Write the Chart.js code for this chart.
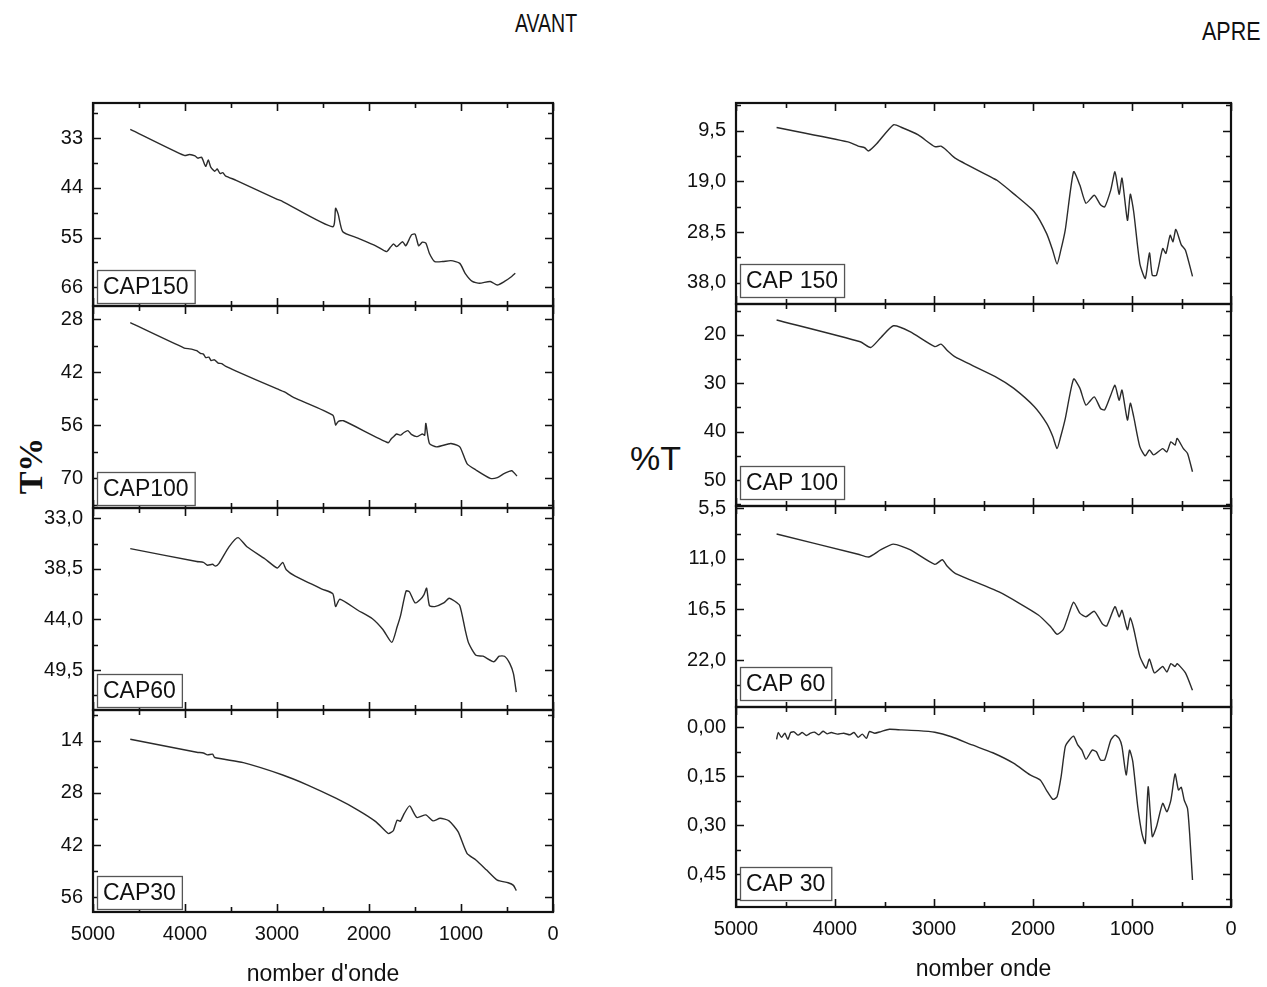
<!DOCTYPE html>
<html>
<head>
<meta charset="utf-8">
<title>CAP IR AVANT / APRE</title>
<script src="https://cdn.jsdelivr.net/npm/chart.js@4.4.1/dist/chart.umd.min.js"></script>
<style>
  body { margin: 0; background: #fff; width: 1267px; height: 987px; position: relative; overflow: hidden; }
  canvas { position: absolute; }
  .txt { position: absolute; white-space: nowrap; color: #111; font-family: 'Liberation Sans', Arial, sans-serif; line-height: 1; }
</style>
</head>
<body>
<div class="txt" id="avant" style="font-size:25px; left:546px; top:23px; transform:translate(-50%,-50%) scaleX(0.78);">AVANT</div>
<div class="txt" id="apre" style="font-size:25px; left:1202px; top:31px; transform-origin:left center; transform:translateY(-50%) scaleX(0.86);">APRE</div>
<div class="txt" id="tpct" style="font-family:'Liberation Serif','Times New Roman',serif; font-weight:bold; font-size:34px; left:31px; top:466px; transform:translate(-50%,-50%) rotate(-90deg);">T%</div>
<div class="txt" id="pctt" style="font-size:34px; left:681px; top:458px; transform:translate(-100%,-50%);">%T</div>

<script>
// --- DATA ---
// wave numbers (cm-1) and transmittance for each sample, before (AVANT) and after (APRE)
const wnA150 = [4595, 4008, 3950, 3891, 3860, 3820, 3775, 3747, 3720, 3677, 3650, 3619, 3590, 3561, 3444, 2997, 2938, 2394, 2363, 2335, 2285, 2121, 1927, 1810, 1770, 1733, 1700, 1635, 1600, 1538, 1499, 1460, 1420, 1382, 1343, 1285, 1200, 1110, 1013, 955, 877, 799, 682, 605, 527, 449, 410];
const tA150  = [31.0, 36.8, 36.6, 36.9, 37.4, 37.2, 39.2, 37.8, 39.4, 40.3, 39.8, 40.8, 40.6, 41.3, 42.3, 46.5, 47.0, 52.6, 48.5, 49.8, 53.7, 55.1, 56.8, 58.1, 57.2, 56.4, 57.0, 55.9, 56.8, 54.4, 54.2, 56.8, 56.0, 56.2, 58.5, 60.3, 60.3, 60.1, 60.7, 62.9, 64.7, 65.1, 64.7, 65.5, 64.7, 63.6, 62.9];

const wnA100 = [4595, 4008, 3950, 3911, 3872, 3833, 3800, 3775, 3740, 3716, 3680, 3639, 3600, 3561, 3444, 2997, 2919, 2822, 2394, 2363, 2335, 2277, 1791, 1760, 1733, 1700, 1655, 1620, 1577, 1540, 1480, 1421, 1395, 1382, 1343, 1266, 1149, 1110, 1013, 935, 838, 682, 605, 527, 449, 391];
const tA100  = [28.9, 35.6, 35.8, 36.0, 36.3, 37.0, 37.2, 38.1, 38.0, 38.9, 38.7, 39.6, 39.7, 40.4, 41.7, 46.4, 47.2, 48.6, 53.3, 55.9, 55.0, 54.8, 60.6, 59.6, 59.0, 58.3, 58.6, 57.9, 57.4, 58.4, 59.0, 58.3, 58.6, 55.5, 60.8, 61.7, 61.0, 60.8, 61.7, 66.1, 67.8, 70.0, 69.8, 68.7, 68.0, 69.4];

const wnA60 = [4595, 3872, 3800, 3755, 3700, 3669, 3630, 3522, 3424, 3327, 3133, 2997, 2938, 2899, 2802, 2510, 2394, 2363, 2316, 2121, 1966, 1849, 1752, 1694, 1655, 1597, 1560, 1499, 1440, 1402, 1374, 1343, 1285, 1188, 1130, 1071, 1013, 955, 916, 838, 760, 643, 585, 527, 469, 430, 399];
const tA60  = [36.3, 37.7, 37.8, 38.1, 38.0, 38.2, 37.9, 36.1, 35.1, 36.1, 37.4, 38.4, 37.8, 38.6, 39.3, 40.7, 41.2, 42.6, 41.8, 43.0, 43.9, 45.1, 46.5, 44.8, 43.5, 40.9, 41.0, 42.2, 41.8, 41.3, 40.6, 42.5, 42.6, 42.2, 41.7, 42.0, 42.5, 45.1, 46.6, 47.9, 48.0, 48.6, 48.0, 48.0, 48.8, 49.9, 51.9];

const wnA30 = [4595, 3872, 3800, 3755, 3700, 3677, 3366, 2938, 2666, 2355, 2121, 1927, 1791, 1760, 1733, 1694, 1660, 1616, 1558, 1480, 1382, 1304, 1227, 1130, 1032, 935, 838, 721, 605, 488, 430, 399];
const tA30  = [13.6, 17.1, 17.3, 17.8, 17.6, 18.5, 19.9, 23.2, 25.9, 29.5, 32.6, 35.7, 38.9, 38.6, 38.0, 35.3, 35.6, 33.5, 31.5, 34.6, 33.9, 35.5, 34.8, 35.5, 38.4, 44.2, 46.0, 48.7, 51.4, 52.1, 52.8, 54.2];

const wnR150 = [4590, 3870, 3766, 3700, 3661, 3577, 3410, 3326, 3159, 2992, 2929, 2866, 2782, 2406, 2364, 2197, 1988, 1862, 1800, 1757, 1720, 1674, 1590, 1527, 1465, 1381, 1318, 1276, 1214, 1172, 1130, 1101, 1046, 1017, 983, 921, 866, 824, 795, 753, 690, 657, 615, 586, 557, 502, 460, 389];
const tR150  = [8.9, 11.6, 12.4, 12.7, 13.3, 11.9, 8.4, 8.9, 10.3, 12.5, 12.4, 13.3, 14.7, 18.4, 18.8, 21.3, 24.7, 28.8, 32.0, 34.5, 32.0, 28.1, 17.2, 19.7, 23.1, 21.6, 23.4, 23.8, 20.6, 17.2, 21.4, 18.4, 26.3, 21.4, 24.7, 34.4, 37.2, 32.4, 36.6, 36.6, 31.6, 32.5, 29.1, 30.3, 28.0, 30.9, 31.9, 36.8];

const wnR100 = [4590, 3745, 3640, 3536, 3410, 3243, 2992, 2929, 2866, 2782, 2364, 2197, 1988, 1862, 1800, 1757, 1720, 1674, 1590, 1527, 1465, 1381, 1318, 1276, 1214, 1172, 1130, 1101, 1046, 1017, 983, 921, 866, 824, 782, 690, 648, 607, 565, 544, 481, 439, 389];
const tR100  = [16.9, 21.4, 22.6, 20.5, 18.1, 19.3, 22.4, 21.9, 23.2, 24.6, 28.8, 31.0, 34.8, 38.3, 41.0, 43.5, 41.0, 37.3, 29.1, 31.0, 34.5, 32.8, 35.2, 35.5, 32.4, 30.4, 33.5, 31.4, 37.6, 34.1, 36.9, 43.1, 45.0, 43.8, 44.8, 43.5, 44.2, 42.1, 42.8, 41.4, 43.5, 44.5, 48.3];

const wnR60 = [4590, 3766, 3661, 3536, 3410, 3243, 2992, 2916, 2866, 2782, 2343, 1946, 1820, 1757, 1695, 1653, 1590, 1527, 1465, 1381, 1297, 1255, 1172, 1130, 1101, 1046, 1017, 983, 921, 858, 824, 774, 690, 648, 607, 565, 544, 460, 389];
const tR60  = [8.3, 10.5, 10.8, 10.0, 9.4, 10.0, 11.6, 11.1, 11.8, 12.6, 14.6, 17.1, 18.4, 19.2, 18.7, 17.5, 15.7, 16.9, 17.3, 16.7, 18.1, 18.3, 16.2, 17.3, 16.6, 18.7, 17.4, 18.6, 21.6, 22.9, 21.9, 23.4, 22.7, 23.3, 22.4, 22.7, 22.4, 23.4, 25.3];

const wnR30 = [4590, 4573, 4540, 4506, 4477, 4448, 4414, 4372, 4331, 4289, 4247, 4205, 4163, 4121, 4080, 4038, 3975, 3912, 3849, 3808, 3766, 3724, 3682, 3653, 3598, 3536, 3452, 3326, 3159, 2992, 2824, 2615, 2406, 2197, 2029, 1925, 1862, 1799, 1757, 1716, 1674, 1632, 1590, 1548, 1506, 1465, 1402, 1360, 1318, 1276, 1214, 1172, 1130, 1101, 1059, 1025, 992, 942, 900, 866, 837, 795, 753, 690, 648, 607, 565, 531, 502, 473, 439, 418, 389];
const tR30  = [0.037, 0.016, 0.031, 0.018, 0.037, 0.016, 0.014, 0.024, 0.016, 0.025, 0.018, 0.015, 0.023, 0.012, 0.020, 0.016, 0.021, 0.018, 0.023, 0.016, 0.031, 0.021, 0.034, 0.013, 0.018, 0.013, 0.006, 0.008, 0.010, 0.015, 0.029, 0.054, 0.078, 0.110, 0.146, 0.162, 0.194, 0.221, 0.213, 0.151, 0.059, 0.039, 0.027, 0.054, 0.070, 0.098, 0.070, 0.075, 0.100, 0.100, 0.039, 0.024, 0.034, 0.059, 0.146, 0.070, 0.105, 0.243, 0.325, 0.356, 0.182, 0.335, 0.305, 0.233, 0.259, 0.223, 0.143, 0.192, 0.184, 0.223, 0.249, 0.325, 0.468];

// tick labels
const xMajor = [5000, 4000, 3000, 2000, 1000, 0];
const yA150 = [33, 44, 55, 66];
const yA100 = [28, 42, 56, 70];
const yA60  = [33, 38.5, 44, 49.5];
const yA30  = [14, 28, 42, 56];
const yR150 = [9.5, 19, 28.5, 38];
const yR100 = [20, 30, 40, 50];
const yR60  = [5.5, 11, 16.5, 22];
const yR30  = [0, 0.15, 0.30, 0.45];

// --- LAYOUT ---
const figs = [
  { left: 0,   width: 590, x0: 93,  x1: 553,  title: "nomber d'onde", titlePad: 1, boxGap: 3 },
  { left: 620, width: 647, x0: 736, x1: 1231, title: 'nomber onde',   titlePad: 6, boxGap: 7 }
];

const panels = [
  { fig: 0, label: 'CAP150',  wn: wnA150, t: tA150, y0: 103, y1: 306, min: 25.18, max: 70.14, majors: yA150, step: 11,   dec: 0 },
  { fig: 0, label: 'CAP100',  wn: wnA100, t: tA100, y0: 306, y1: 508, min: 24.49, max: 77.84, majors: yA100, step: 14,   dec: 0 },
  { fig: 0, label: 'CAP60',   wn: wnA60,  t: tA60,  y0: 508, y1: 710, min: 31.88, max: 53.85, majors: yA60,  step: 5.5,  dec: 1 },
  { fig: 0, label: 'CAP30',   wn: wnA30,  t: tA30,  y0: 710, y1: 912, min: 5.77,  max: 59.94, majors: yA30,  step: 14,   dec: 0, last: true },
  { fig: 1, label: 'CAP 150', wn: wnR150, t: tR150, y0: 103, y1: 304, min: 4.31,  max: 41.99, majors: yR150, step: 9.5,  dec: 1 },
  { fig: 1, label: 'CAP 100', wn: wnR100, t: tR100, y0: 304, y1: 506, min: 13.59, max: 55.38, majors: yR100, step: 10,   dec: 0 },
  { fig: 1, label: 'CAP 60',  wn: wnR60,  t: tR60,  y0: 506, y1: 707, min: 5.25,  max: 27.11, majors: yR60,  step: 5.5,  dec: 1 },
  { fig: 1, label: 'CAP 30',  wn: wnR30,  t: tR30,  y0: 707, y1: 907, min: -0.0623, max: 0.551, majors: yR30, step: 0.15, dec: 2, last: true }
];

const PAD = 30;
const FONT = "'Liberation Sans', Arial, sans-serif";

// majors plus the unlabeled half-step ticks inside [min, max]
function tickList(majors, step, min, max) {
  const lo = Math.min(min, max), hi = Math.max(min, max);
  let v = majors[0];
  while (v - step / 2 >= lo - 1e-9) v -= step / 2;
  const out = [];
  for (; v <= hi + 1e-9; v += step / 2) {
    const r = Math.round(v * 10000) / 10000;
    out.push({ value: r, minor: !majors.some(m => Math.abs(m - r) < 1e-6) });
  }
  return out;
}

// frame, inward ticks and the sample box
const framePlugin = {
  id: 'frame',
  afterDatasetsDraw(chart, args, opts) {
    const ctx = chart.ctx, ca = chart.chartArea;
    const xs = chart.scales.x, ys = chart.scales.y;
    ctx.save();
    ctx.strokeStyle = '#111';
    ctx.lineWidth = 1.6;
    ctx.beginPath();
    opts.xTicks.forEach(t => {
      const px = Math.round(xs.getPixelForValue(t.value)) + 0.5;
      const len = t.minor ? 5 : 8;
      ctx.moveTo(px, ca.bottom); ctx.lineTo(px, ca.bottom - len);
      ctx.moveTo(px, ca.top); ctx.lineTo(px, ca.top + len);
    });
    opts.yTicks.forEach(t => {
      const py = Math.round(ys.getPixelForValue(t.value)) + 0.5;
      const len = t.minor ? 5 : 8;
      ctx.moveTo(ca.left, py); ctx.lineTo(ca.left + len, py);
      ctx.moveTo(ca.right, py); ctx.lineTo(ca.right - len, py);
    });
    ctx.stroke();

    ctx.lineWidth = 2.2;
    ctx.strokeRect(ca.left, ca.top, ca.right - ca.left, ca.bottom - ca.top);

    // sample label
    ctx.font = '23px ' + FONT;
    const w = ctx.measureText(opts.text).width + 12;
    const h = 33;
    const bx = ca.left + 4, by = ca.bottom - opts.gap - h;
    ctx.fillStyle = '#fff';
    ctx.fillRect(bx, by, w, h);
    ctx.lineWidth = 1.3;
    ctx.strokeStyle = '#555';
    ctx.strokeRect(bx + 0.5, by + 0.5, w, h);
    ctx.fillStyle = '#111';
    ctx.textBaseline = 'middle';
    ctx.fillText(opts.text, bx + 6, by + h / 2 + 1);
    ctx.restore();
  }
};

panels.forEach(p => {
  const f = figs[p.fig];
  const top = p.y0 - PAD;
  const height = p.last ? 987 - top : (p.y1 - p.y0) + 2 * PAD;
  const canvas = document.createElement('canvas');
  canvas.width = f.width;
  canvas.height = height;
  canvas.style.left = f.left + 'px';
  canvas.style.top = top + 'px';
  document.body.appendChild(canvas);

  const xTicks = tickList(xMajor, 1000, 0, 5000);
  const yTicks = tickList(p.majors, p.step, p.min, p.max);
  const points = p.wn.map((w, i) => ({ x: w, y: p.t[i] }));

  new Chart(canvas.getContext('2d'), {
    type: 'line',
    data: {
      datasets: [{
        label: p.label,
        data: points,
        borderColor: '#2b2b2b',
        borderWidth: 1.4,
        pointRadius: 0,
        tension: 0.2,
        fill: false
      }]
    },
    options: {
      responsive: false,
      animation: false,
      events: [],
      layout: {
        padding: { left: 0, top: PAD, right: f.width - (f.x1 - f.left), bottom: p.last ? 0 : PAD }
      },
      plugins: {
        legend: { display: false },
        tooltip: { enabled: false },
        frame: { xTicks: xTicks, yTicks: yTicks, text: p.label, gap: f.boxGap }
      },
      scales: {
        x: {
          type: 'linear',
          min: 0,
          max: 5000,
          reverse: true,
          display: !!p.last,
          grid: { display: false, drawTicks: false },
          border: { display: false },
          afterBuildTicks: axis => { axis.ticks = xTicks.map(t => ({ value: t.value })); },
          afterFit: axis => { if (p.last) axis.height = 987 - p.y1; },
          ticks: {
            autoSkip: false,
            maxRotation: 0,
            padding: 10,
            color: '#111',
            font: { family: FONT, size: 20 },
            callback: (v, i) => xTicks[i].minor ? '' : String(v)
          },
          title: {
            display: true,
            text: f.title,
            color: '#111',
            font: { family: FONT, size: 23, lineHeight: 1 },
            padding: { top: 0, bottom: f.titlePad }
          }
        },
        y: {
          type: 'linear',
          min: p.min,
          max: p.max,
          reverse: true,
          grid: { display: false, drawTicks: false },
          border: { display: false },
          afterBuildTicks: axis => { axis.ticks = yTicks.map(t => ({ value: t.value })); },
          afterFit: axis => { axis.width = f.x0 - f.left; },
          ticks: {
            autoSkip: false,
            padding: 10,
            color: '#111',
            font: { family: FONT, size: 20 },
            callback: (v, i) => yTicks[i].minor ? '' : v.toFixed(p.dec).replace('.', ',')
          }
        }
      }
    },
    plugins: [framePlugin]
  });
});
</script>
</body>
</html>
